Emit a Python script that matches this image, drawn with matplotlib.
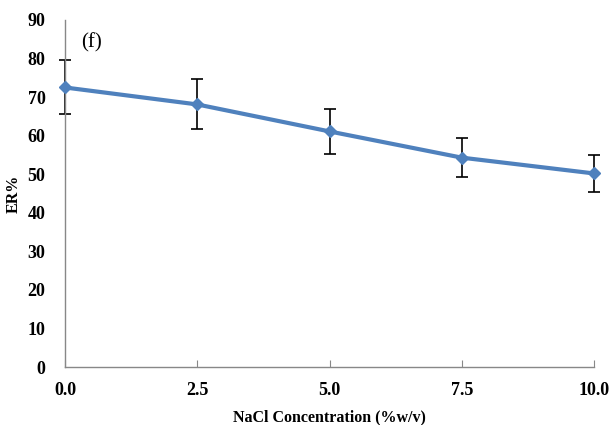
import matplotlib.pyplot as plt

# NaCl concentration (%w/v) vs extraction recovery
nacl = [0.0, 2.5, 5.0, 7.5, 10.0]
er = [72.5, 68.1, 61.1, 54.3, 50.2]
er_err = [7.0, 6.5, 5.8, 5.1, 4.8]
x_ticks = [0.0, 2.5, 5.0, 7.5, 10.0]
x_labels = ['0.0', '2.5', '5.0', '7.5', '10.0']
y_ticks = list(range(0, 91, 10))

plt.rcParams['font.family'] = ['Liberation Serif', 'DejaVu Serif']

fig = plt.figure(figsize=(6.1, 4.25), dpi=100)
ax = fig.add_axes([65 / 610, 1 - 367 / 425, 529 / 610, 347 / 425])

# error bars first, then the line with diamond markers on top
eb = ax.errorbar(nacl, er, yerr=er_err, fmt='none', ecolor='black',
                 elinewidth=1.2, capsize=4, capthick=1.2, zorder=2)
for art in eb.lines[1] + eb.lines[2]:
    art.set_clip_on(False)
ax.plot(nacl, er, color='#4F81BD', lw=3, marker='D', ms=6, zorder=4, clip_on=False)

ax.set_xlim(0, 10)
ax.set_ylim(0, 90)
ax.set_xticks(x_ticks)
ax.set_xticklabels(x_labels)
ax.set_yticks(y_ticks)

for s in ['top', 'right']:
    ax.spines[s].set_visible(False)
for s in ['left', 'bottom']:
    ax.spines[s].set_color('#888888')
    ax.spines[s].set_linewidth(1)

ax.tick_params(axis='x', direction='in', length=5, color='#888888', pad=11)
ax.tick_params(axis='y', length=0, pad=14)
for lab in ax.get_xticklabels() + ax.get_yticklabels():
    lab.set_fontweight('bold')
    lab.set_fontsize(13)

ax.set_xlabel('NaCl Concentration (%w/v)', fontweight='bold', fontsize=11.5, labelpad=7)
ax.set_ylabel('ER%', fontweight='bold', fontsize=11.5, labelpad=4)
ax.text(0.3, 84, '(f)', fontsize=15, va='center')

fig.savefig('out.png', dpi=100)
